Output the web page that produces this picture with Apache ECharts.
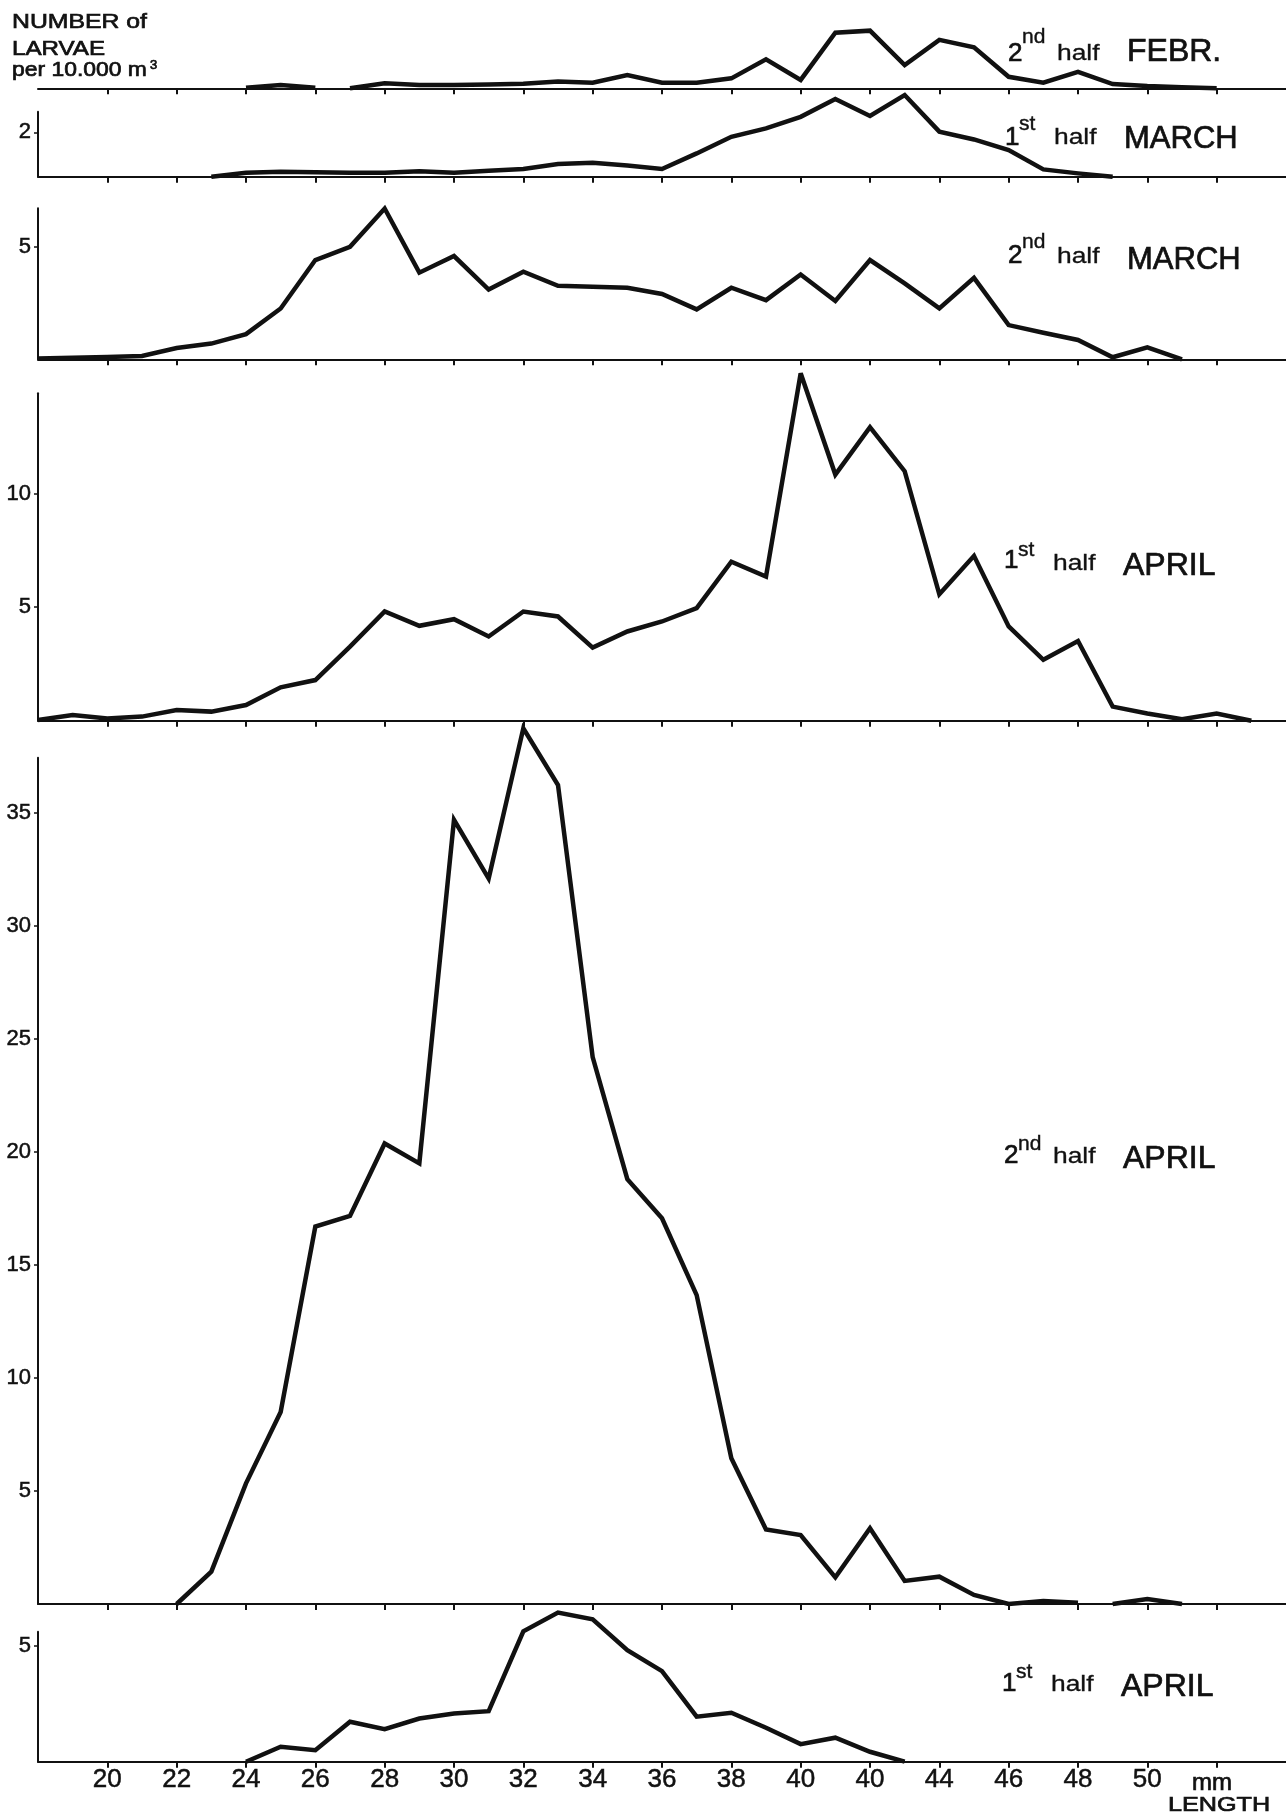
<!DOCTYPE html>
<html><head><meta charset="utf-8">
<script src="https://cdn.jsdelivr.net/npm/echarts@6/dist/echarts.min.js"></script>
<style>html,body{margin:0;padding:0;background:#fff}#c{width:1286px;height:1816px}</style>
</head><body><div id="c"></div>
<script>
// ---- x axis (length, mm) ----
const xTickValues  = [20,22,24,26,28,30,32,34,36,38,40,42,44,46,48,50,52];
const xLabelValues = [20,22,24,26,28,30,32,34,36,38,40,42,44,46,48,50];
const xTickLabels  = ['20','22','24','26','28','30','32','34','36','38','40','40','44','46','48','50'];

// ---- series values (number of larvae per 10.000 m3), one value per mm ----
const feb2ndA = [0.02,0.15,0.03];                       // 24-26 mm
const feb2ndB = [0,0.22,0.15,0.15,0.17,0.2,0.3,0.25,0.59,0.25,0.25,0.44,1.28,0.37,
                 2.46,2.55,1.03,2.14,1.81,0.51,0.25,0.73,0.19,0.1,0.05,0]; // 27-52 mm
const mar1st  = [0,0.18,0.22,0.2,0.18,0.18,0.25,0.18,0.27,0.35,0.57,0.63,0.5,0.35,
                 1.05,1.8,2.18,2.7,3.5,2.74,3.68,2.03,1.68,1.2,0.33,0.15,0]; // 23-49 mm
const mar2nd  = [0.04,0.07,0.1,0.15,0.5,0.7,1.12,2.26,4.41,5.0,6.7,3.85,4.59,3.1,3.89,
                 3.27,3.22,3.18,2.9,2.22,3.18,2.63,3.77,2.59,4.41,3.37,2.26,3.62,1.52,
                 1.18,0.86,0.09,0.53,0];                  // 18-51 mm
const apr1st  = [0.03,0.25,0.1,0.18,0.47,0.4,0.69,1.47,1.79,3.26,4.81,4.18,4.47,3.71,
                 4.81,4.59,3.22,3.93,4.37,4.96,7.0,6.35,15.3,10.84,12.93,10.99,5.57,
                 7.26,4.15,2.68,3.51,0.62,0.32,0.06,0.32,0]; // 18-53 mm
const apr2ndA = [0,1.43,5.34,8.5,16.7,17.17,20.38,19.5,34.7,32.1,38.75,36.24,24.2,
                 18.8,17.07,13.67,6.45,3.3,3.05,1.18,3.35,1.02,1.21,0.4,0,0.13,0.06]; // 22-48 mm
const apr2ndB = [0,0.22,0];                             // 49-51 mm
const apr1stB = [0,0.65,0.5,1.73,1.41,1.87,2.09,2.19,5.65,6.46,6.17,4.83,3.92,1.95,
                 2.12,1.47,0.76,1.04,0.43,0];            // 24-43 mm

// ---- y tick values per panel ----
const yTicksFeb2 = [];
const yTicksMar1 = [2];
const yTicksMar2 = [5];
const yTicksApr1 = [5,10];
const yTicksApr2 = [5,10,15,20,25,30,35];
const yTicksApr1B = [5];

const panels = [
  {segs:[[24,feb2ndA],[27,feb2ndB]], yt:yTicksFeb2, top:20,    base:88.3,   ymax:3.02, yaxis:false},
  {segs:[[23,mar1st]],               yt:yTicksMar1, top:111.7, base:176.7,  ymax:2.93, yaxis:true},
  {segs:[[18,mar2nd]],               yt:yTicksMar2, top:208.3, base:359.3,  ymax:6.71, yaxis:true},
  {segs:[[18,apr1st]],               yt:yTicksApr1, top:393.3, base:720.7,  ymax:14.42,yaxis:true},
  {segs:[[22,apr2ndA],[49,apr2ndB]], yt:yTicksApr2, top:757.7, base:1604,   ymax:37.45,yaxis:true},
  {segs:[[24,apr1stB]],              yt:yTicksApr1B,top:1631.7,base:1761.7, ymax:5.63, yaxis:true}
];

const INK = '#111';
const LEFT = 38, WIDTH = 1248;
const grids = [], xAxes = [], yAxes = [], series = [];
panels.forEach((p, i) => {
  grids.push({left: LEFT, width: WIDTH, top: p.top, height: p.base - p.top, containLabel: false});
  const last = i === panels.length - 1;
  xAxes.push({
    type: 'value', gridIndex: i, min: 18, max: 54,
    splitLine: {show: false},
    axisLine: {show: true, onZero: false, lineStyle: {color: INK, width: 2}},
    axisTick: {show: true, inside: false, length: 6, customValues: xTickValues, lineStyle: {color: INK, width: 2}},
    axisLabel: {show: last, customValues: xLabelValues, margin: 5, color: INK,
      fontSize: 26, fontFamily: "'Liberation Sans Narrow', 'Liberation Sans', sans-serif",
      textBorderColor: INK, textBorderWidth: 0.5,
      formatter: v => { const k = xLabelValues.indexOf(v); return k >= 0 ? xTickLabels[k] : ''; }}
  });
  yAxes.push({
    type: 'value', gridIndex: i, min: 0, max: p.ymax, show: p.yaxis,
    splitLine: {show: false},
    axisLine: {show: true, onZero: false, lineStyle: {color: INK, width: 2}},
    axisTick: {show: true, inside: false, length: 4, customValues: p.yt, lineStyle: {color: INK, width: 1.5}},
    axisLabel: {show: true, customValues: p.yt, margin: 7, color: INK, fontSize: 22,
      textBorderColor: INK, textBorderWidth: 0.5,
      fontFamily: "'Liberation Sans', sans-serif"}
  });
  p.segs.forEach(([start, vals]) => {
    series.push({
      type: 'line', xAxisIndex: i, yAxisIndex: i, clip: false, silent: true,
      symbol: 'none', showSymbol: false, animation: false,
      lineStyle: {color: INK, width: 4.5, join: 'miter', miterLimit: 4},
      data: vals.map((v, k) => [start + k, v])
    });
  });
});

// ---- texts ----
function txt(text, x, baseline, fs, sx, sw) {
  return {type: 'text', x: x, y: baseline - 0.35 * fs, scaleX: sx || 1, silent: true,
    style: {text: text, x: 0, y: 0, fill: INK, stroke: INK, lineWidth: sw == null ? 0.7 : sw,
      font: fs + "px 'Liberation Sans', sans-serif",
      align: 'left', textAlign: 'left', verticalAlign: 'middle', textVerticalAlign: 'middle'}};
}
function monthLabel(num, sup, month, x0, b, bSup, bHalf, bMonth, fsMonth) {
  return [
    txt(num, x0, b, 26),
    txt(sup, x0 + 14, bSup, 21, 1, 0.4),
    txt('half', x0 + 49, bHalf, 22, 1.2, 0.3),
    txt(month, x0 + 119, bMonth, fsMonth)
  ];
}
const graphics = [].concat(
  txt('NUMBER of', 12, 29.3, 21, 1.18),
  txt('LARVAE', 12, 56.7, 21, 1.15),
  txt('per 10.000 m', 12, 78, 21, 1.09),
  txt('3', 150, 70, 13),
  monthLabel('2', 'nd', 'FEBR.', 1008, 63, 45, 62, 63, 32),
  monthLabel('1', 'st', 'MARCH', 1005, 147, 132, 146, 150, 31),
  monthLabel('2', 'nd', 'MARCH', 1008, 265, 250, 265, 271, 31),
  monthLabel('1', 'st', 'APRIL', 1004, 570, 558, 572, 577, 32),
  monthLabel('2', 'nd', 'APRIL', 1004, 1165, 1152, 1165, 1170, 32),
  monthLabel('1', 'st', 'APRIL', 1002, 1693, 1680, 1693, 1698, 32),
  txt('mm', 1192, 1792, 24),
  txt('LENGTH', 1168, 1813, 21, 1.2)
);

const chart = echarts.init(document.getElementById('c'), null, {renderer: 'canvas', width: 1286, height: 1816});
chart.setOption({
  backgroundColor: '#fff',
  animation: false,
  grid: grids, xAxis: xAxes, yAxis: yAxes, series: series,
  graphic: {elements: graphics}
});
</script></body></html>
